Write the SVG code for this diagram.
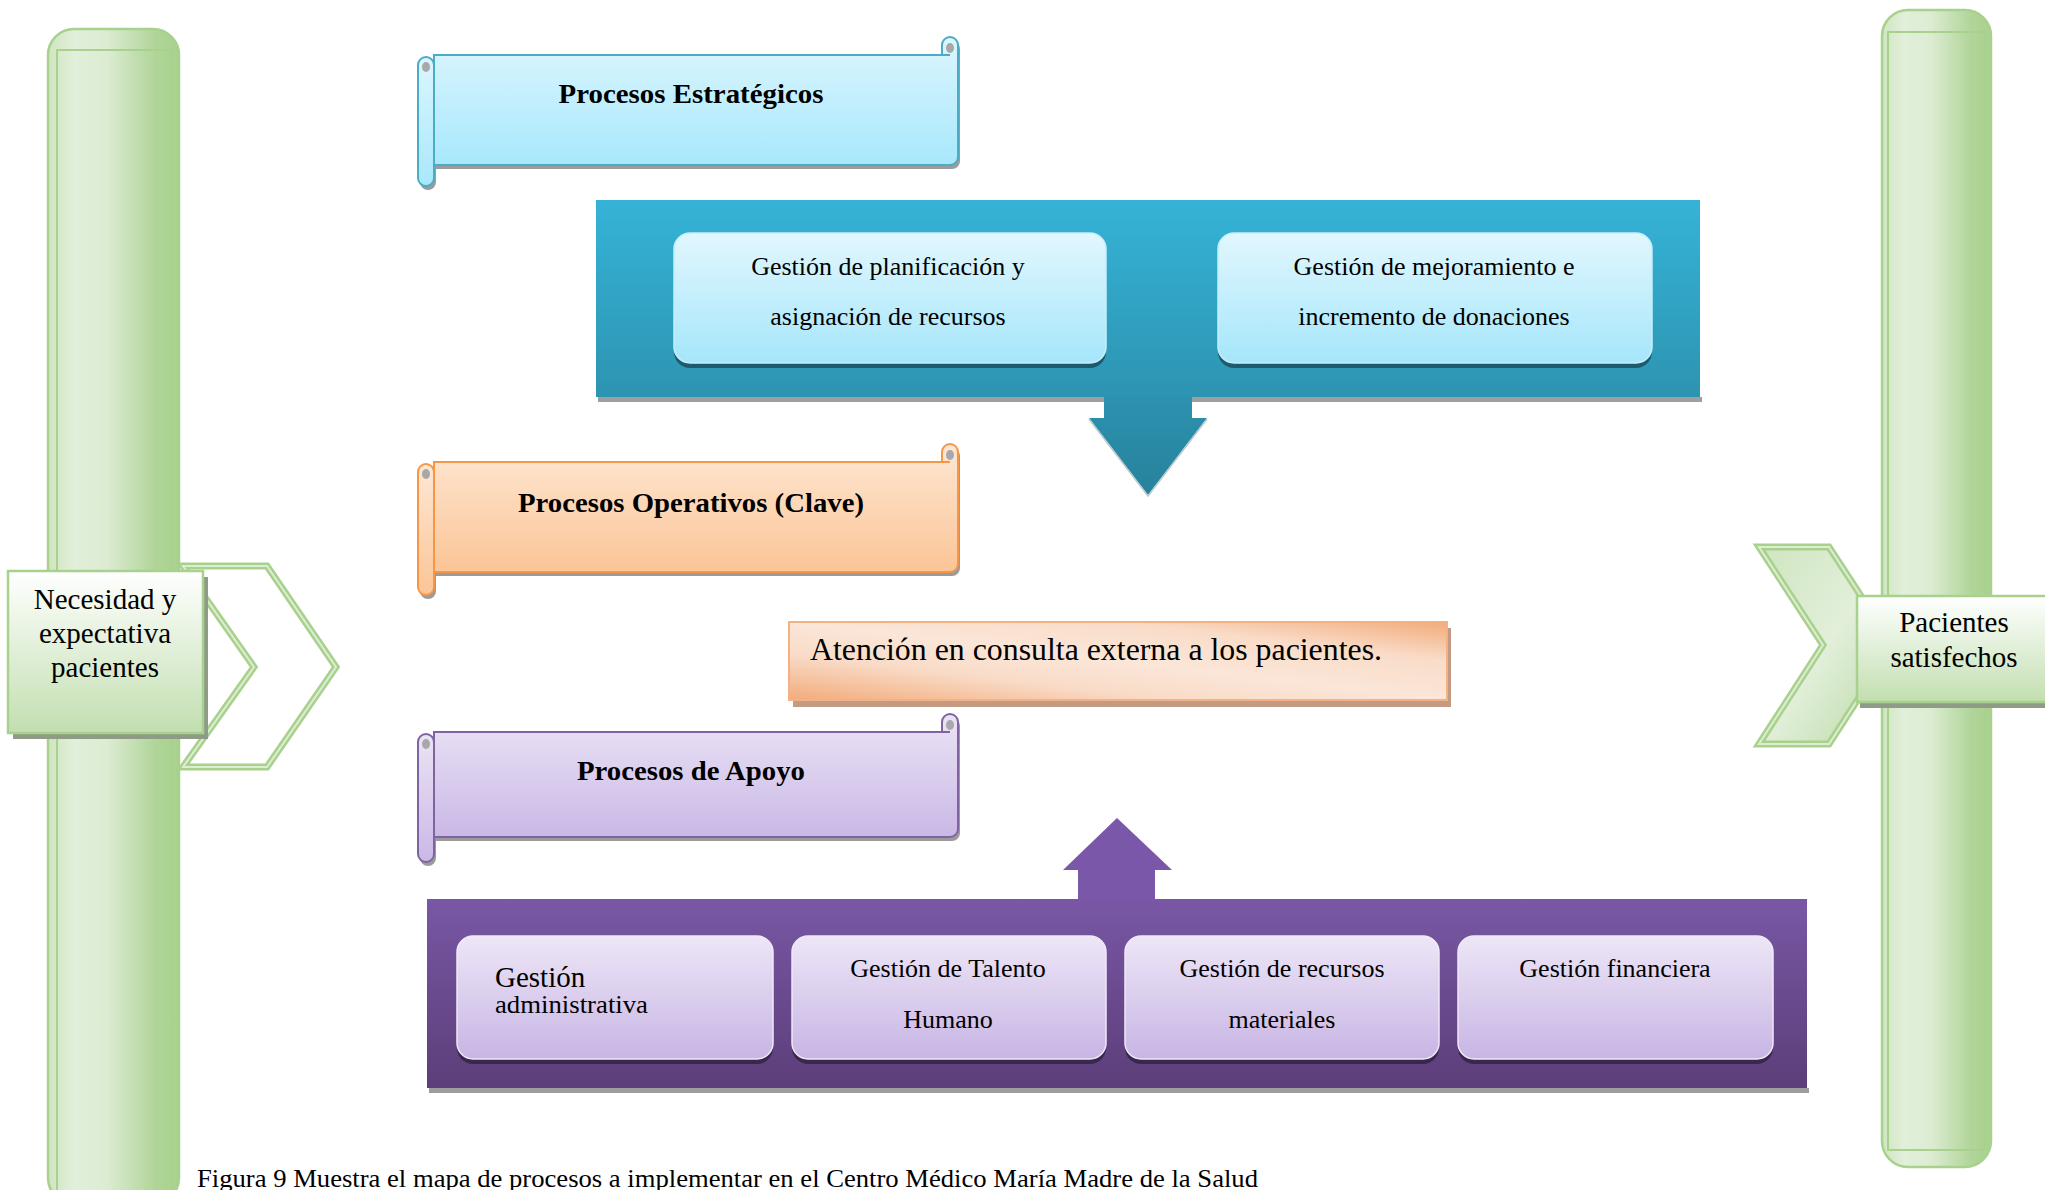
<svg xmlns="http://www.w3.org/2000/svg" width="2045" height="1190" viewBox="0 0 2045 1190">
<defs>
<linearGradient id="gBar" x1="0" y1="0" x2="1" y2="0">
<stop offset="0" stop-color="#cfe5c0"/><stop offset="0.2" stop-color="#e2efda"/><stop offset="0.45" stop-color="#dcecd2"/><stop offset="0.82" stop-color="#b0d598"/><stop offset="1" stop-color="#a9d18e"/>
</linearGradient>
<linearGradient id="gGreenBox" x1="0" y1="0" x2="0" y2="1">
<stop offset="0" stop-color="#ffffff"/><stop offset="1" stop-color="#c2dfb0"/>
</linearGradient>
<linearGradient id="gChev" x1="0" y1="0" x2="1" y2="1">
<stop offset="0" stop-color="#cfe5c0"/><stop offset="0.5" stop-color="#e2efda"/><stop offset="1" stop-color="#b8d9a2"/>
</linearGradient>
<linearGradient id="gBlueScroll" x1="0" y1="0" x2="0" y2="1">
<stop offset="0" stop-color="#dcf6fe"/><stop offset="1" stop-color="#a8e8fc"/>
</linearGradient>
<linearGradient id="gBluePanel" x1="0" y1="0" x2="0" y2="1">
<stop offset="0" stop-color="#35b3d7"/><stop offset="1" stop-color="#2d94b1"/>
</linearGradient>
<linearGradient id="gBlueArrow" x1="0" y1="0" x2="0" y2="1">
<stop offset="0" stop-color="#2d92af"/><stop offset="1" stop-color="#26829c"/>
</linearGradient>
<linearGradient id="gBlueBox" x1="0" y1="0" x2="0" y2="1">
<stop offset="0" stop-color="#e2f7fe"/><stop offset="1" stop-color="#a5e6fb"/>
</linearGradient>
<linearGradient id="gOrangeScroll" x1="0" y1="0" x2="0" y2="1">
<stop offset="0" stop-color="#fee7d4"/><stop offset="1" stop-color="#fbc596"/>
</linearGradient>
<linearGradient id="gAtencion" x1="0" y1="1" x2="1" y2="0">
<stop offset="0" stop-color="#f2ab7b"/><stop offset="0.3" stop-color="#f9dcc8"/><stop offset="0.5" stop-color="#fbe6d8"/><stop offset="0.75" stop-color="#f9dcc8"/><stop offset="1" stop-color="#f2ab7b"/>
</linearGradient>
<linearGradient id="gPurpleScroll" x1="0" y1="0" x2="0" y2="1">
<stop offset="0" stop-color="#ebe4f5"/><stop offset="1" stop-color="#cab8e6"/>
</linearGradient>
<linearGradient id="gPurplePanel" x1="0" y1="0" x2="0" y2="1">
<stop offset="0" stop-color="#7957a5"/><stop offset="1" stop-color="#5c3e79"/>
</linearGradient>
<linearGradient id="gPurpleBox" x1="0" y1="0" x2="0" y2="1">
<stop offset="0" stop-color="#ede6f7"/><stop offset="1" stop-color="#c8b5e4"/>
</linearGradient>
</defs>
<style>
.t{font-family:"Liberation Serif","Times New Roman",serif;fill:#000}
.b{font-weight:bold}
.bar{fill:url(#gBar);stroke:#a9d18e;stroke-width:2.5}
.barIn{fill:none;stroke:#a9d18e;stroke-width:2}
.chevO{stroke:#a9d18e;stroke-width:7;stroke-linejoin:miter}
.chevI{fill:none;stroke:#dcedd1;stroke-width:2;stroke-linejoin:miter}
.gbox{fill:url(#gGreenBox);stroke:#a9d18e;stroke-width:2.5}
.gshadow{fill:#8e9c86}
.shadow{fill:#9b9b9b}
.sBlue{fill:url(#gBlueScroll);stroke:#4bacc6;stroke-width:2}
.sOrange{fill:url(#gOrangeScroll);stroke:#f79646;stroke-width:2}
.sPurple{fill:url(#gPurpleScroll);stroke:#8064a2;stroke-width:2}
.curl{fill:#a8a8a8}
.bbox{fill:url(#gBlueBox);stroke:#c4effd;stroke-width:1.5}
.bboxSh{fill:#1d5a6d}
.pbox{fill:url(#gPurpleBox);stroke:#efe9f8;stroke-width:1.5}
.pboxSh{fill:#3a2750}
</style>

<!-- side bars -->
<g id="input-bar">
<rect class="bar" x="48" y="29" width="131" height="1175" rx="26"/>
<rect class="barIn" x="57" y="50" width="115" height="1160"/>
</g>
<g id="output-bar">
<rect class="bar" x="1882" y="10" width="109" height="1157" rx="26"/>
<rect class="barIn" x="1888" y="32" width="97" height="1118"/>
</g>

<!-- connectors -->
<g id="connectors">
<polygon class="chevO" fill="#ffffff" points="183,566 267,566 336,667 267,767 183,767 254,667"/>
<polygon class="chevI" points="183,566 267,566 336,667 267,767 183,767 254,667"/>
<polygon class="chevO" fill="url(#gChev)" points="1759,547 1829,547 1893,645 1829,744 1759,744 1823,645"/>
<polygon class="chevI" points="1759,547 1829,547 1893,645 1829,744 1759,744 1823,645"/>
<polygon fill="url(#gBlueArrow)" points="1104,396 1192,396 1192,418 1207,418 1148,495 1089,418 1104,418"/>
<polyline fill="none" stroke="#b9c8cc" stroke-width="1.5" points="1207,419 1148,496 1089,419"/>
<polygon fill="#7a57a8" points="1078,900 1078,870 1063,870 1117,818 1172,870 1155,870 1155,900"/>
</g>

<!-- Necesidad -->
<g id="node-necesidad">
<rect class="gshadow" x="13" y="577" width="195" height="162"/>
<rect class="gbox" x="8" y="571" width="195" height="162"/>
<text class="t" font-size="29" text-anchor="middle"><tspan x="105" y="609">Necesidad y</tspan><tspan x="105" y="643">expectativa</tspan><tspan x="105" y="677">pacientes</tspan></text>
</g>

<!-- Pacientes -->
<g id="node-pacientes">
<rect class="gshadow" x="1860" y="600" width="195" height="108"/>
<rect class="gbox" x="1857" y="596" width="195" height="106"/>
<text class="t" font-size="29" text-anchor="middle"><tspan x="1954" y="632">Pacientes</tspan><tspan x="1954" y="667">satisfechos</tspan></text>
</g>

<!-- Procesos Estrategicos scroll -->
<g id="node-estrategicos">
<g class="shadow" transform="translate(2,4)">
<path d="M434,55 H942 V45 A8,8 0 0 1 958,45 V157 A8,8 0 0 1 950,165 H434 Z"/>
<path d="M418,65 A8,8 0 0 1 434,65 V178 A8,8 0 0 1 418,178 Z"/>
</g>
<path class="sBlue" d="M434,55 H942 V45 A8,8 0 0 1 958,45 V157 A8,8 0 0 1 950,165 H434 Z"/>
<path class="sBlue" d="M418,65 A8,8 0 0 1 434,65 V178 A8,8 0 0 1 418,178 Z"/>
<ellipse class="curl" cx="950" cy="48" rx="4" ry="5"/>
<path d="M942,55 H950" stroke="#4bacc6" stroke-width="2"/>
<ellipse class="curl" cx="426" cy="67" rx="4" ry="5"/>
<text class="t b" x="691" y="103" font-size="28" text-anchor="middle" textLength="265" lengthAdjust="spacingAndGlyphs">Procesos  Estratégicos</text>
</g>

<!-- Strategic panel -->
<g id="node-estrategicos-panel">
<rect fill="#9e9e9e" x="598" y="397" width="506" height="5"/>
<rect fill="#9e9e9e" x="1192" y="397" width="510" height="5"/>
<rect fill="url(#gBluePanel)" x="596" y="200" width="1104" height="197"/>
<rect class="bboxSh" x="674" y="238" width="432" height="130" rx="16"/>
<rect class="bbox" x="674" y="233" width="432" height="130" rx="16"/>
<rect class="bboxSh" x="1218" y="238" width="434" height="130" rx="16"/>
<rect class="bbox" x="1218" y="233" width="434" height="130" rx="16"/>
<text class="t" font-size="26" text-anchor="middle"><tspan x="888" y="275">Gestión de planificación y</tspan><tspan x="888" y="325">asignación de recursos</tspan></text>
<text class="t" font-size="26" text-anchor="middle"><tspan x="1434" y="275">Gestión de mejoramiento e</tspan><tspan x="1434" y="325">incremento de donaciones</tspan></text>
</g>

<!-- Procesos Operativos scroll -->
<g id="node-operativos">
<g class="shadow" transform="translate(2,4)">
<path d="M434,462 H942 V452 A8,8 0 0 1 958,452 V564 A8,8 0 0 1 950,572 H434 Z"/>
<path d="M418,472 A8,8 0 0 1 434,472 V587 A8,8 0 0 1 418,587 Z"/>
</g>
<path class="sOrange" d="M434,462 H942 V452 A8,8 0 0 1 958,452 V564 A8,8 0 0 1 950,572 H434 Z"/>
<path class="sOrange" d="M418,472 A8,8 0 0 1 434,472 V587 A8,8 0 0 1 418,587 Z"/>
<ellipse class="curl" cx="950" cy="455" rx="4" ry="5"/>
<path d="M942,462 H950" stroke="#f79646" stroke-width="2"/>
<ellipse class="curl" cx="426" cy="474" rx="4" ry="5"/>
<text class="t b" x="691" y="512" font-size="28" text-anchor="middle" textLength="346" lengthAdjust="spacingAndGlyphs">Procesos Operativos (Clave)</text>
</g>

<!-- Atencion -->
<g id="node-atencion">
<rect fill="#c39a83" x="793" y="628" width="658" height="79"/>
<rect fill="url(#gAtencion)" stroke="#f4b183" stroke-width="2" x="789" y="622" width="658" height="78"/>
<text class="t" x="810" y="660" font-size="32" textLength="572" lengthAdjust="spacingAndGlyphs">Atención en consulta externa a los pacientes.</text>
</g>

<!-- Procesos de Apoyo scroll -->
<g id="node-apoyo">
<g class="shadow" transform="translate(2,4)">
<path d="M434,732 H942 V722 A8,8 0 0 1 958,722 V829 A8,8 0 0 1 950,837 H434 Z"/>
<path d="M418,742 A8,8 0 0 1 434,742 V854 A8,8 0 0 1 418,854 Z"/>
</g>
<path class="sPurple" d="M434,732 H942 V722 A8,8 0 0 1 958,722 V829 A8,8 0 0 1 950,837 H434 Z"/>
<path class="sPurple" d="M418,742 A8,8 0 0 1 434,742 V854 A8,8 0 0 1 418,854 Z"/>
<ellipse class="curl" cx="950" cy="725" rx="4" ry="5"/>
<path d="M942,732 H950" stroke="#8064a2" stroke-width="2"/>
<ellipse class="curl" cx="426" cy="744" rx="4" ry="5"/>
<text class="t b" x="691" y="780" font-size="28" text-anchor="middle" textLength="228" lengthAdjust="spacingAndGlyphs">Procesos de Apoyo</text>
</g>

<!-- Support panel -->
<g id="node-apoyo-panel">
<rect fill="#9e9e9e" x="429" y="1088" width="1380" height="5"/>
<rect fill="url(#gPurplePanel)" x="427" y="899" width="1380" height="189"/>
<rect class="pboxSh" x="457" y="941" width="316" height="123" rx="16"/>
<rect class="pbox" x="457" y="936" width="316" height="123" rx="16"/>
<rect class="pboxSh" x="792" y="941" width="314" height="123" rx="16"/>
<rect class="pbox" x="792" y="936" width="314" height="123" rx="16"/>
<rect class="pboxSh" x="1125" y="941" width="314" height="123" rx="16"/>
<rect class="pbox" x="1125" y="936" width="314" height="123" rx="16"/>
<rect class="pboxSh" x="1458" y="941" width="315" height="123" rx="16"/>
<rect class="pbox" x="1458" y="936" width="315" height="123" rx="16"/>
<text class="t" x="495" y="987" font-size="29">Gestión</text>
<text class="t" x="495" y="1013" font-size="26" textLength="153" lengthAdjust="spacingAndGlyphs">administrativa</text>
<text class="t" font-size="26" text-anchor="middle"><tspan x="948" y="977">Gestión de Talento</tspan><tspan x="948" y="1028">Humano</tspan></text>
<text class="t" font-size="26" text-anchor="middle"><tspan x="1282" y="977">Gestión de recursos</tspan><tspan x="1282" y="1028">materiales</tspan></text>
<text class="t" x="1615" y="977" font-size="26" text-anchor="middle">Gestión financiera</text>
</g>

<text class="t" x="197" y="1187" font-size="26" textLength="1061" lengthAdjust="spacingAndGlyphs">Figura 9 Muestra el mapa de procesos a implementar en el Centro Médico María Madre de la Salud</text>
</svg>
